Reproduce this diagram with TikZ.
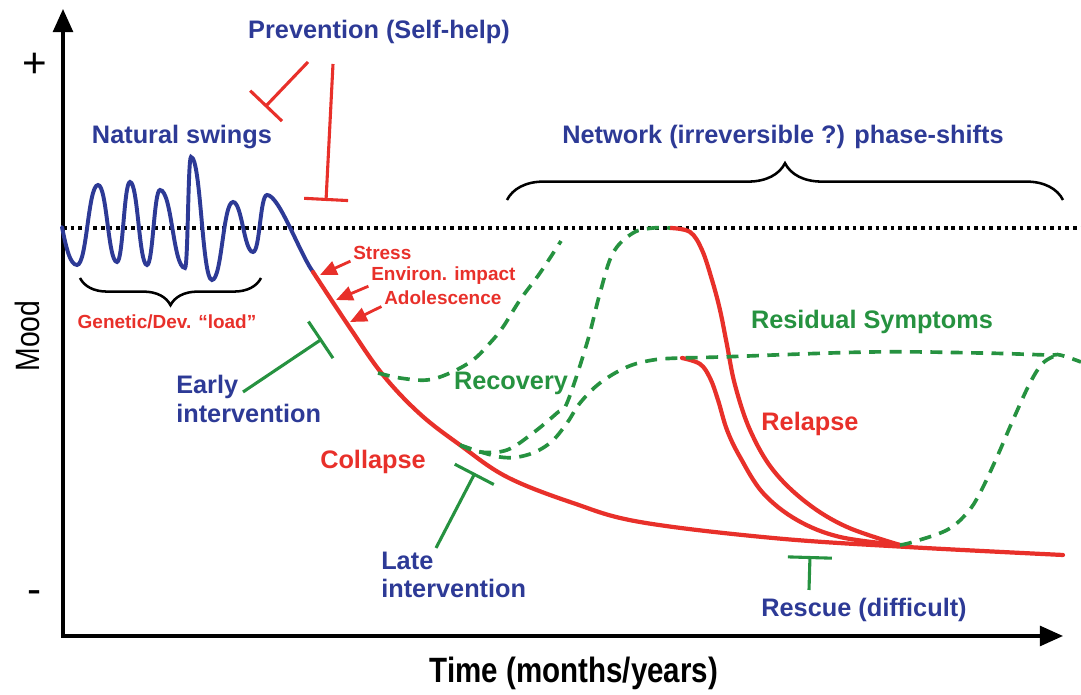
\documentclass[tikz,border=0pt]{standalone}
\usepackage{fontspec}
\setmainfont{Liberation Sans}
\newfontfamily\narrowsans[FakeStretch=0.84]{Liberation Sans}
\usetikzlibrary{arrows.meta}
\usetikzlibrary{decorations.pathreplacing}
\definecolor{Mood-blue}{RGB}{45,58,150}
\definecolor{Mood-red}{RGB}{232,48,42}
\definecolor{Mood-green}{RGB}{38,146,64}
\tikzset{
  bigtxt/.style={font=\fontsize{18}{20.5}\selectfont\bfseries, inner sep=0pt},
  smalltxt/.style={font=\fontsize{13.5}{15}\selectfont\bfseries, text=Mood-red, inner sep=0pt, anchor=west},
  axis/.style={line width=2.2pt, line cap=rect, -{Triangle[length=0.58cm, width=0.5cm]}},
  normline/.style={line width=2.6pt, dash pattern=on 2.6pt off 2.8pt},
  swing/.style={Mood-blue, line width=2.8pt, line cap=round},
  course/.style={Mood-red, line width=3pt, line cap=round, line join=round},
  recovery/.style={Mood-green, line width=2.6pt, dash pattern=on 8.5pt off 6pt},
  block/.style={#1, line width=2.2pt, -{Bar[width=1.1cm]}},
  push/.style={Mood-red, line width=2pt, shorten <=2pt, -{Triangle[length=0.42cm, width=0.36cm]}},
  curly/.style={line width=1.8pt, decorate, decoration={brace, amplitude=#1}}
}

\begin{document}
\begin{tikzpicture}[x=0.025cm, y=0.025cm]
  \useasboundingbox (0,0) rectangle (1081,695);

  % axes
  \coordinate (O) at (63,59);
  \coordinate (ytop) at (63,686);
  \coordinate (xend) at (1063,59);
  \draw[axis] (O) -- (ytop);
  \draw[axis] (O) -- (xend);
  \node[font=\fontsize{30}{30}\selectfont] (plus) at (35,630) {+};
  \node[font=\fontsize{30}{30}\selectfont] (minus) at (35,98) {-};
  \node[font=\narrowsans\fontsize{24}{24}\selectfont, rotate=90] (mood) at (27,359) {Mood};
  \node[font=\narrowsans\fontsize{25}{25}\selectfont\bfseries] (time) at (574,22) {Time (months/years)};

  \coordinate (norm-l) at (63,467);
  \coordinate (norm-r) at (1081,467);
  \draw[normline] (norm-l) -- (norm-r);

  % natural swings
  \draw[swing] (62,468) .. controls +(4,-20) and +(-7,0) .. (77,430)
    .. controls +(10,0) and +(-10,0) .. (98,510)
    .. controls +(9,0) and +(-9,0) .. (117,433)
    .. controls +(6,0) and +(-6,0) .. (130,513)
    .. controls +(8,0) and +(-8,0) .. (147,430)
    .. controls +(6,0) and +(-6,0) .. (160,505)
    .. controls +(12,0) and +(-12,0) .. (185,427)
    .. controls +(3,0) and +(-3,0) .. (191,538)
    .. controls +(10,0) and +(-10,0) .. (212,415)
    .. controls +(10,0) and +(-10,0) .. (233,493)
    .. controls +(9,0) and +(-9,0) .. (253,443)
    .. controls +(7,0) and +(-7,0) .. (267,500)
    .. controls +(12,0) and +(-14,20) .. (313,423);

  % collapse
  \draw[course] plot[smooth, tension=0.6] coordinates {(313,423) (350,367) (383,320) (420,281) (460,250) (507,218) (573,192) (640,173) (773,157) (907,148) (1063,140)};

  % relapses
  \draw[course] plot[smooth, tension=0.6] coordinates {(670,467) (690,463) (702,445) (712,415) (720,385) (727,350) (735,310) (750,265) (773,225) (807,192) (847,168) (900,150)};
  \draw[course] plot[smooth, tension=0.6] coordinates {(682,337) (700,331) (710,317) (718,295) (727,265) (740,238) (763,202) (797,175) (840,158) (900,150)};

  % recoveries
  \draw[recovery] plot[smooth, tension=0.6] coordinates {(378,322) (400,317) (427,315) (450,322) (473,335) (490,352) (503,368) (520,395) (540,422) (561,454)};
  \draw[recovery] plot[smooth, tension=0.6] coordinates {(460,250) (480,243) (507,245) (533,262) (557,282) (567,292) (587,352) (600,402) (613,442) (633,462) (653,467) (670,467)};
  \draw[recovery] plot[smooth, tension=0.6] coordinates {(460,250) (500,238) (527,240) (550,252) (567,272) (580,292) (600,312) (627,328) (653,335) (680,337) (720,338) (870,343) (980,342) (1047,340) (1060,340) (1081,333)};
  \draw[recovery] plot[smooth, tension=0.6] coordinates {(900,150) (913,153) (947,165) (967,182) (980,202) (997,238) (1013,275) (1030,312) (1043,332) (1057,340)};

  % braces
  \coordinate (net-l) at (507,495);
  \coordinate (net-r) at (1063,495);
  \draw[curly=0.92cm] (net-l) -- (net-r);
  \coordinate (load-r) at (261,417);
  \coordinate (load-l) at (80,417);
  \draw[curly=0.68cm] (load-r) -- (load-l);

  % labels
  \node[bigtxt, text=Mood-blue] (prev) at (379,663) {Prevention (Self-help)};
  \node[bigtxt, text=Mood-blue] (swings) at (182,558) {Natural swings};
  \node[bigtxt, text=Mood-blue] (network) at (783,558) {Network (irreversible ?) phase-shifts};
  \node[smalltxt, anchor=center] (load) at (167,373) {Genetic/Dev. “load”};
  \node[smalltxt] (stress) at (353,442) {Stress};
  \node[smalltxt] (environ) at (371,419) {Environ. impact};
  \node[smalltxt] (adol) at (384,397) {Adolescence};
  \node[bigtxt, text=Mood-blue, align=left, anchor=west] (early) at (176,296) {Early\\intervention};
  \node[bigtxt, text=Mood-green] (recov) at (511,312) {Recovery};
  \node[bigtxt, text=Mood-red] (collapse) at (373,233) {Collapse};
  \node[bigtxt, text=Mood-blue, align=left, anchor=west] (late) at (381,120) {Late\\intervention};
  \node[bigtxt, text=Mood-green] (resid) at (872,373) {Residual Symptoms};
  \node[bigtxt, text=Mood-red] (relapse) at (810,271) {Relapse};
  \node[bigtxt, text=Mood-blue] (rescue) at (864,85) {Rescue (difficult)};

  % triggers
  \coordinate (stress-tip) at (320,420);
  \coordinate (environ-tip) at (336,395);
  \coordinate (adol-tip) at (350,373);
  \draw[push] (stress.south west) -- (stress-tip);
  \draw[push] (environ.south west) -- (environ-tip);
  \draw[push] (adol.south west) -- (adol-tip);

  % interventions
  \coordinate (prev-a) at (308,633);
  \coordinate (prev-a-end) at (265,588);
  \coordinate (prev-b) at (333,631);
  \coordinate (prev-b-end) at (326,494);
  \draw[block=Mood-red] (prev-a) -- (prev-a-end);
  \draw[block=Mood-red] (prev-b) -- (prev-b-end);
  \coordinate (early-a) at (243,303);
  \coordinate (early-end) at (322,356);
  \draw[block=Mood-green] (early-a) -- (early-end);
  \coordinate (late-a) at (436,147);
  \coordinate (late-end) at (475,222);
  \draw[block=Mood-green] (late-a) -- (late-end);
  \coordinate (rescue-a) at (809,105);
  \coordinate (rescue-end) at (810,139);
  \draw[block=Mood-green] (rescue-a) -- (rescue-end);
\end{tikzpicture}
\end{document}
